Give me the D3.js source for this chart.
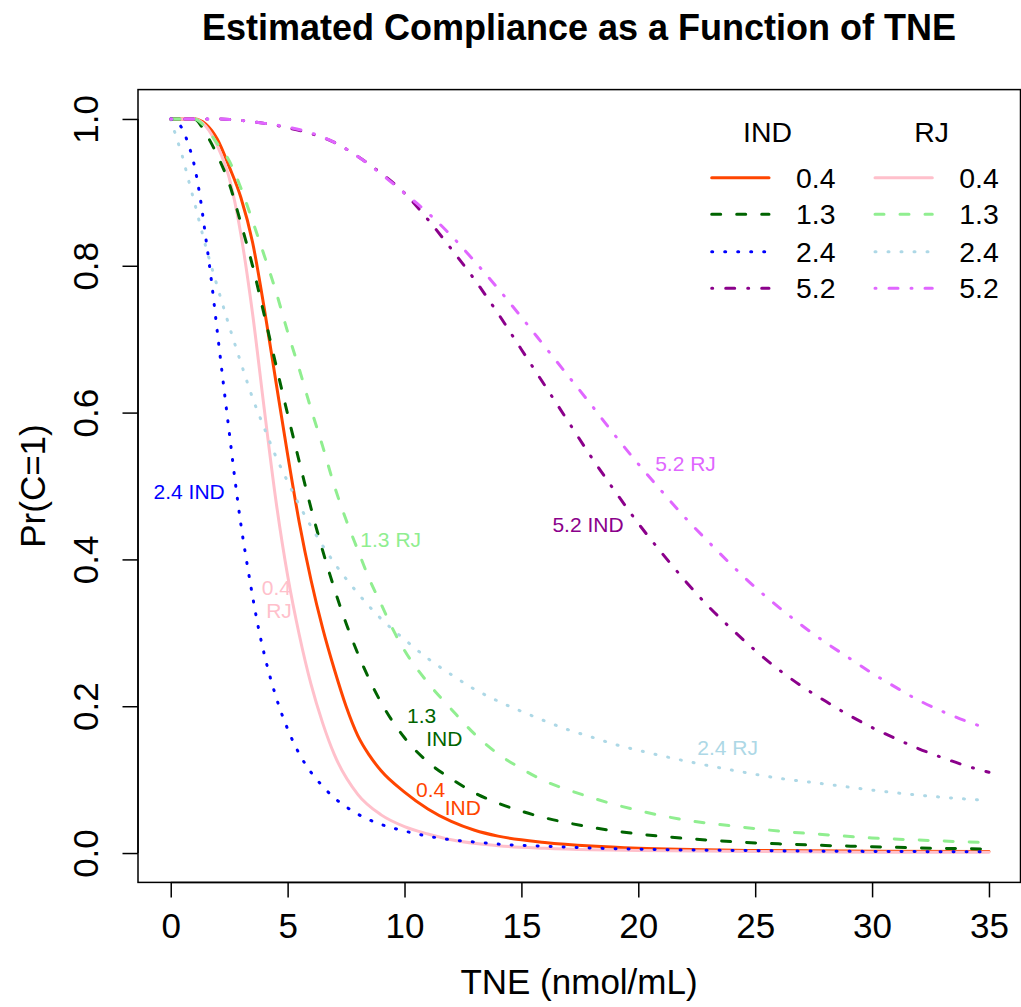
<!DOCTYPE html>
<html><head><meta charset="utf-8">
<script src="https://cdn.jsdelivr.net/npm/d3@7"></script>
<style>
body{margin:0;background:#fff}
text{font-family:"Liberation Sans",Arial,Helvetica,sans-serif;fill:#000}
</style>
</head><body>
<svg id="chart" width="1021" height="1007"></svg>
<script>
// ---------------- DATA ----------------
const xTicks = [0, 5, 10, 15, 20, 25, 30, 35];
const yTicks = [0, 0.2, 0.4, 0.6, 0.8, 1.0];
const levels = ["0.4", "1.3", "2.4", "5.2"];
const groups = ["IND", "RJ"];

// [TNE, Pr(C=1)]
const ind04 = [[0,1],[1,1],[1.5,0.993],[2,0.972],[2.5,0.935],[3,0.893],[3.5,0.832],[4,0.742],[4.5,0.642],[5,0.543],[5.5,0.450],[6,0.372],[6.5,0.306],[7,0.250],[7.5,0.200],[8,0.160],[8.5,0.133],[9,0.112],[10,0.083],[11,0.060],[12,0.043],[13,0.031],[14,0.023],[16,0.0145],[18,0.0095],[20,0.0065],[25,0.0035],[30,0.0025],[35,0.002]];
const rj04  = [[0,1],[1,1],[1.5,0.99],[2,0.963],[2.5,0.92],[3,0.843],[3.5,0.735],[4,0.605],[4.5,0.48],[5,0.378],[5.5,0.297],[6,0.23],[6.5,0.177],[7,0.134],[8,0.08],[9,0.052],[10,0.036],[11,0.026],[12,0.018],[14,0.010],[16,0.0065],[18,0.0045],[20,0.0035],[25,0.002],[30,0.0012],[35,0.001]];
const ind13 = [[0,1],[1,1],[1.5,0.98],[2,0.95],[2.5,0.912],[3,0.858],[3.5,0.8],[4,0.733],[4.5,0.665],[5,0.598],[5.5,0.533],[6,0.47],[6.5,0.412],[7,0.36],[7.5,0.313],[8,0.272],[9,0.205],[10,0.157],[11,0.124],[12,0.101],[13,0.082],[14,0.068],[15,0.057],[16,0.048],[17,0.041],[18,0.035],[19,0.030],[20,0.026],[22,0.020],[24,0.0155],[26,0.0125],[28,0.0103],[30,0.0086],[32,0.007],[35,0.0055]];
const rj13  = [[0,1],[1,1],[1.5,0.988],[2,0.966],[2.5,0.943],[3,0.906],[3.5,0.861],[4,0.814],[4.5,0.765],[5,0.71],[5.5,0.659],[6,0.605],[6.5,0.554],[7,0.50],[7.5,0.454],[8,0.413],[8.5,0.373],[9,0.339],[9.5,0.305],[10,0.276],[11,0.232],[12,0.196],[13,0.162],[14,0.135],[15,0.115],[16,0.098],[17,0.086],[18,0.0755],[19,0.066],[20,0.058],[22,0.045],[24,0.037],[26,0.030],[28,0.025],[30,0.0205],[32,0.0177],[35,0.014]];
const ind24 = [[0,1],[0.25,0.997],[0.5,0.986],[0.75,0.966],[1,0.938],[1.25,0.895],[1.5,0.838],[1.75,0.777],[2,0.708],[2.25,0.64],[2.5,0.574],[2.75,0.508],[3,0.448],[3.25,0.397],[3.5,0.35],[3.75,0.307],[4,0.271],[4.5,0.213],[5,0.169],[5.5,0.135],[6,0.11],[6.5,0.091],[7,0.075],[7.5,0.063],[8,0.053],[9,0.039],[10,0.030],[11,0.023],[12,0.018],[13,0.015],[14,0.0122],[16,0.0093],[18,0.0068],[20,0.0052],[25,0.0032],[30,0.0022],[35,0.0017]];
const rj24  = [[0,1],[0.25,0.974],[0.5,0.949],[0.75,0.918],[1,0.888],[1.5,0.826],[2,0.771],[2.5,0.718],[3,0.668],[3.5,0.62],[4,0.579],[4.5,0.54],[5,0.506],[5.5,0.474],[6,0.445],[7,0.395],[8,0.354],[9,0.319],[10,0.291],[11,0.265],[12,0.243],[13,0.223],[14,0.207],[15,0.193],[16,0.18],[17,0.168],[18,0.158],[19,0.148],[20,0.14],[22,0.1255],[24,0.113],[26,0.102],[28,0.094],[30,0.0858],[32,0.0788],[35,0.0715]];
const ind52 = [[0,1],[2,1.0],[3,0.998],[4,0.994],[5,0.988],[6,0.98],[7,0.968],[8,0.949],[9,0.926],[10,0.899],[11,0.863],[12,0.823],[13,0.781],[14,0.735],[15,0.686],[16,0.637],[17,0.588],[18,0.539],[19,0.493],[20,0.449],[21,0.409],[22,0.371],[23,0.336],[24,0.305],[25,0.276],[26,0.25],[27,0.227],[28,0.207],[29,0.188],[30,0.171],[31,0.156],[32,0.142],[33,0.13],[34,0.119],[35,0.11]];
const rj52  = [[0,1],[2,1.0],[3,0.998],[4,0.994],[5,0.989],[6,0.981],[7,0.968],[8,0.949],[9,0.925],[10,0.899],[11,0.872],[12,0.841],[13,0.806],[14,0.769],[15,0.730],[16,0.690],[17,0.650],[18,0.610],[19,0.569],[20,0.530],[21,0.493],[22,0.457],[23,0.424],[24,0.392],[25,0.362],[26,0.335],[27,0.310],[28,0.287],[29,0.266],[30,0.245],[31,0.226],[32,0.208],[33,0.193],[34,0.18],[35,0.169]];

const seriesData   = [ind04, rj04, ind13, rj13, ind24, rj24, ind52, rj52];
const seriesGroup  = ["IND","RJ","IND","RJ","IND","RJ","IND","RJ"];
const seriesLevel  = ["0.4","0.4","1.3","1.3","2.4","2.4","5.2","5.2"];
const seriesColor  = ["#FF4500","#FFC0CB","#006400","#90EE90","#0000FF","#ADD8E6","#8B008B","#E066FF"];
const seriesStyle  = ["solid","solid","dashed","dashed","dotted","dotted","dotdash","dotdash"];

// in-plot labels: [text, TNE, Pr, series index]
const curveLabels = [
  ["2.4 IND", 0.79, 0.492, 4],
  ["0.4", 4.52, 0.362, 1], ["RJ", 4.63, 0.330, 1],
  ["1.3 RJ", 9.41, 0.427, 3],
  ["1.3", 10.73, 0.188, 2], ["IND", 11.70, 0.156, 2],
  ["0.4", 11.12, 0.0865, 0], ["IND", 12.49, 0.062, 0],
  ["2.4 RJ", 23.82, 0.144, 5],
  ["5.2 IND", 17.85, 0.448, 6],
  ["5.2 RJ", 22.02, 0.530, 7]
];

const titleText = "Estimated Compliance as a Function of TNE";
const xLabel = "TNE (nmol/mL)";
const yLabel = "Pr(C=1)";

// ---------------- DRAWING ----------------
const dashes = {solid: null, dashed: "9 16", dotted: "1 12", dotdash: "1 13 9 13"};
const LW = 3;

const svg = d3.select("#chart");
svg.append("rect").attr("width",1021).attr("height",1007).attr("fill","#fff");

const x = d3.scaleLinear().domain([-1.4, 36.4]).range([138, 1021.7]);
const y = d3.scaleLinear().domain([-0.04, 1.04]).range([882.4, 89.6]);

// curves
const line = d3.line().x(d => x(d[0])).y(d => y(d[1])).curve(d3.curveMonotoneX);
seriesData.forEach((s, i) => {
  svg.append("path")
    .attr("d", line(s))
    .attr("fill","none")
    .attr("stroke", seriesColor[i])
    .attr("stroke-width", LW)
    .attr("stroke-linecap","round")
    .attr("stroke-linejoin","round")
    .attr("stroke-dasharray", dashes[seriesStyle[i]]);
});

// curve labels
curveLabels.forEach(l => {
  svg.append("text")
    .attr("x", x(l[1])).attr("y", y(l[2]))
    .attr("text-anchor","middle")
    .attr("dominant-baseline","central")
    .style("font-size","21px")
    .style("fill", seriesColor[l[3]])
    .text(l[0]);
});

// box
svg.append("rect")
  .attr("x", x(-1.4)).attr("y", y(1.04))
  .attr("width", 1020.5 - x(-1.4)).attr("height", y(-0.04) - y(1.04))
  .attr("fill","none").attr("stroke","#000").attr("stroke-width",1.5);

// x axis
const xAxis = svg.append("g")
  .attr("transform", `translate(0,${y(-0.04)})`)
  .call(d3.axisBottom(x).tickValues(xTicks).tickFormat(d3.format("d")).tickSize(15));
xAxis.select(".domain").remove();
xAxis.selectAll(".tick line").attr("stroke","#000").attr("stroke-width",1.5);
xAxis.selectAll(".tick text").style("font-size","35px").attr("dy","0.71em").attr("y", 30.5);
xAxis.append("line").attr("x1",x(0)).attr("x2",x(35)).attr("stroke","#000").attr("stroke-width",1.5);

// y axis
const yAxis = svg.append("g")
  .attr("transform", `translate(${x(-1.4)},0)`)
  .call(d3.axisLeft(y).tickValues(yTicks).tickFormat(d3.format(".1f")).tickSize(15.5));
yAxis.select(".domain").remove();
yAxis.selectAll(".tick line").attr("stroke","#000").attr("stroke-width",1.5);
yAxis.selectAll(".tick text")
  .style("font-size","35px")
  .attr("transform","rotate(-90)")
  .attr("x",0).attr("y",-40).attr("dy",null)
  .attr("text-anchor","middle");
yAxis.append("line").attr("y1",y(0)).attr("y2",y(1)).attr("stroke","#000").attr("stroke-width",1.5);

// titles
svg.append("text").attr("x",579).attr("y",40).attr("text-anchor","middle")
  .style("font-size","36px").style("font-weight","bold").text(titleText);
svg.append("text").attr("x",579).attr("y",994).attr("text-anchor","middle")
  .style("font-size","35px").text(xLabel);
svg.append("text").attr("transform",`translate(45,${y(0.5)}) rotate(-90)`).attr("text-anchor","middle")
  .style("font-size","35px").text(yLabel);

// legend
const legX = {IND: {l1: 711.7, l2: 769, t: 796, h: 767.5}, RJ: {l1: 875, l2: 932.3, t: 959.3, h: 931.7}};
const legRowY = [177.7, 214.3, 251.7, 288.3];
const legHeadY = 131.7;
groups.forEach(g => {
  svg.append("text").attr("x", legX[g].h).attr("y", legHeadY)
    .attr("text-anchor","middle").attr("dominant-baseline","central")
    .style("font-size","28.4px").text(g);
  levels.forEach((lv, r) => {
    const i = seriesData.findIndex((_, k) => seriesGroup[k] === g && seriesLevel[k] === lv);
    svg.append("line")
      .attr("x1", legX[g].l1).attr("x2", legX[g].l2)
      .attr("y1", legRowY[r]).attr("y2", legRowY[r])
      .attr("stroke", seriesColor[i]).attr("stroke-width", LW)
      .attr("stroke-linecap","round")
      .attr("stroke-dasharray", dashes[seriesStyle[i]]);
    svg.append("text").attr("x", legX[g].t).attr("y", legRowY[r])
      .attr("dominant-baseline","central")
      .style("font-size","28.4px").text(lv);
  });
});
</script>
</body></html>
